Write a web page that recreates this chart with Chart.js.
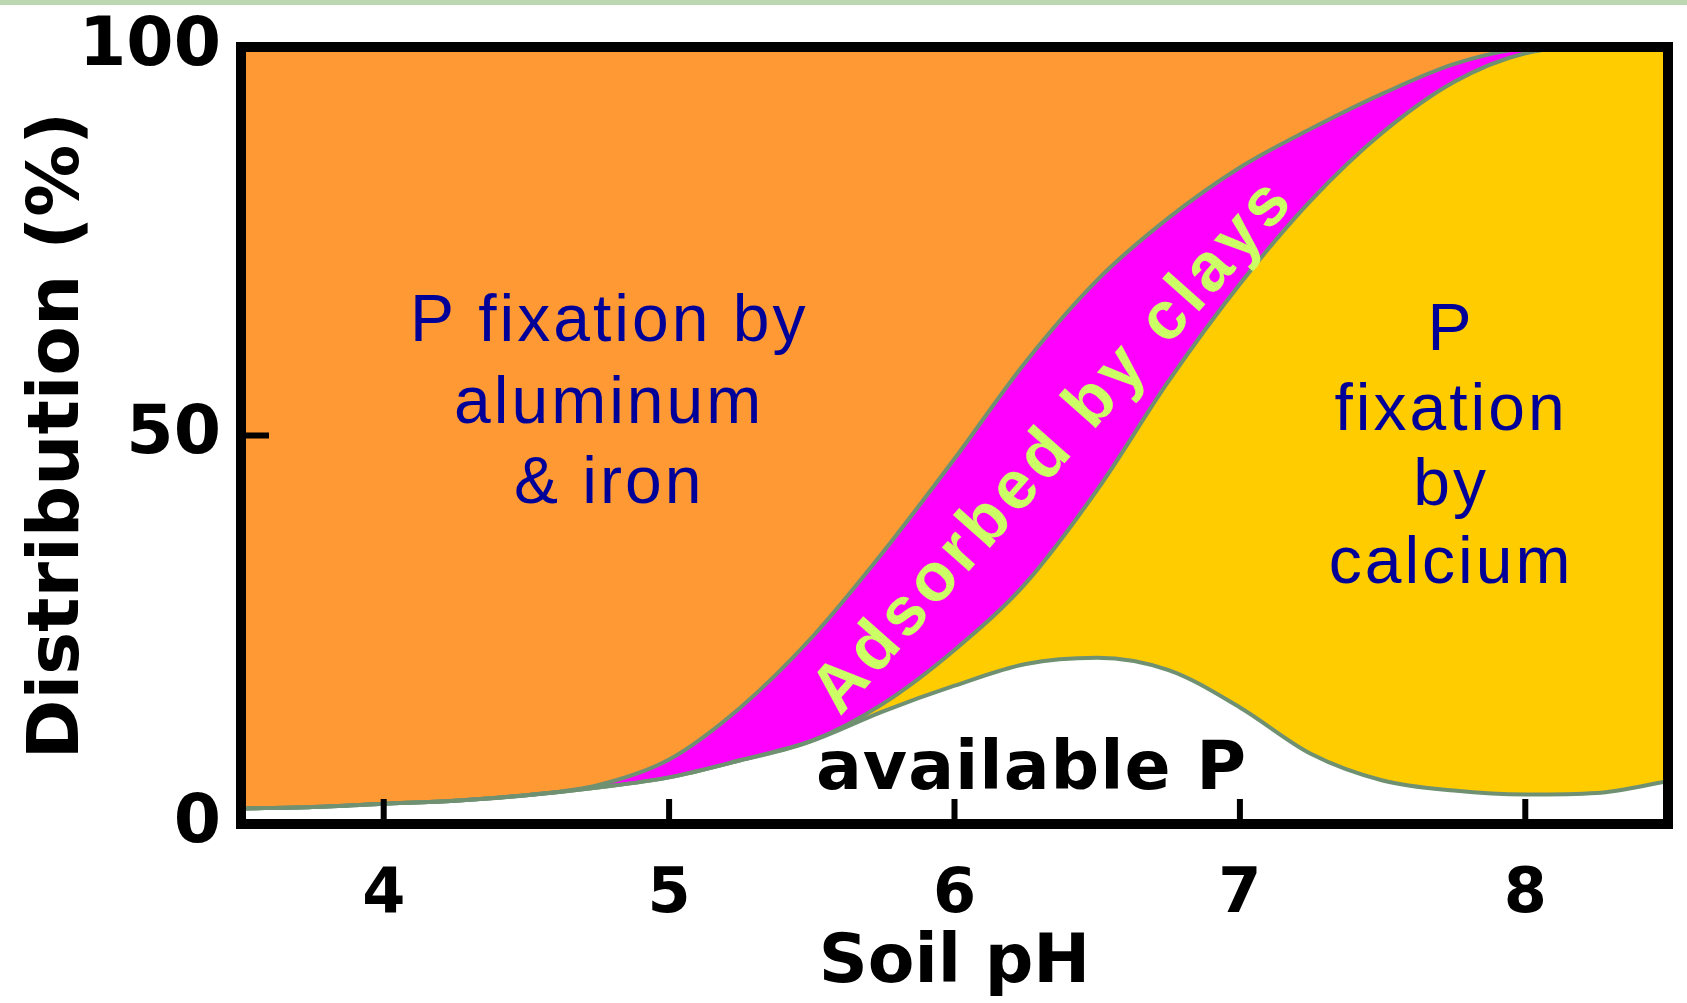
<!DOCTYPE html>
<html>
<head>
<meta charset="utf-8">
<title>Soil pH and P fixation</title>
<script src="https://cdn.jsdelivr.net/npm/chart.js@4.4.1/dist/chart.umd.min.js"></script>
<style>
  html, body { margin: 0; padding: 0; background: #fff; }
  #wrap { position: relative; width: 1687px; height: 1003px; }
  #strip { position: absolute; left: 0; top: 0; width: 1687px; height: 5px; background: #bcd8b2; }
  canvas { display: block; }
</style>
</head>
<body>
<div id="wrap">
  <canvas id="chart" width="1687" height="1003"></canvas>
  <div id="strip"></div>
</div>
<script>
// pH sample points
const phValues = [3.5, 3.75, 4.0, 4.25, 4.5, 4.75, 5.0, 5.25, 5.5, 5.75, 6.0, 6.25, 6.5, 6.75, 7.0, 7.25, 7.5, 7.75, 8.0, 8.25, 8.5];
// upper edge of each band, in % counted from the bottom
const availableTop = [2.0, 2.2, 2.6, 3.0, 3.7, 4.7, 6.0, 8.2, 10.7, 14.5, 17.8, 20.6, 21.4, 19.8, 15.0, 9.0, 5.6, 4.3, 3.8, 4.0, 5.5];
const calciumTop   = [2.0, 2.2, 2.6, 3.0, 3.7, 4.7, 6.0, 8.2, 10.7, 15.5, 22.4, 31.0, 43.0, 57.0, 69.5, 80.3, 89.0, 95.5, 99.2, 100, 100];
const claysTop     = [2.0, 2.2, 2.6, 3.0, 3.7, 5.0, 8.3, 15.0, 24.0, 35.0, 47.0, 59.5, 70.0, 78.0, 84.5, 89.5, 94.0, 97.8, 99.8, 100, 100];
// axis ticks
const xTicks = [4, 5, 6, 7, 8];
const yTicks = [0, 50, 100];

const pts = arr => phValues.map((x, i) => ({ x, y: arr[i] }));
const edge = '#6f9172';

// text inside the areas, placed in data units
const areaLabels = [
  { lines: ['P fixation by', 'aluminum', '& iron'], ph: 4.79, at: [62.1, 51.6, 41.3] },
  { lines: ['P', 'fixation', 'by', 'calcium'], ph: 7.74, at: [61.0, 50.7, 41.1, 31.0] }
];

const decor = {
  id: 'decor',
  afterDatasetsDraw(chart) {
    const { ctx, scales: { x, y } } = chart;
    ctx.save();
    ctx.textAlign = 'center';
    ctx.textBaseline = 'alphabetic';
    ctx.fillStyle = '#000099';
    ctx.font = '66px "Liberation Sans", Arial, sans-serif';
    ctx.letterSpacing = '3px';
    areaLabels.forEach(l => {
      l.lines.forEach((t, i) => ctx.fillText(t, x.getPixelForValue(l.ph), y.getPixelForValue(l.at[i])));
    });

    // available P
    ctx.letterSpacing = '1px';
    ctx.fillStyle = '#000';
    ctx.font = 'bold 68px "DejaVu Sans", sans-serif';
    ctx.fillText('available P', x.getPixelForValue(6.27), y.getPixelForValue(4.5));

    // clays, along the band
    ctx.save();
    ctx.translate(x.getPixelForValue(6.35), y.getPixelForValue(48.6));
    ctx.rotate(-48.5 * Math.PI / 180);
    ctx.textBaseline = 'middle';
    ctx.fillStyle = '#ccff66';
    ctx.font = 'bold 68px "Liberation Sans", Arial, sans-serif';
    ctx.letterSpacing = '5px';
    ctx.fillText('Adsorbed by clays', 0, 0);
    ctx.restore();
    ctx.restore();
  },
  afterDraw(chart) {
    const { ctx, chartArea: a, scales: { x, y } } = chart;
    ctx.save();
    ctx.strokeStyle = '#000';
    ctx.lineWidth = 6;
    ctx.beginPath();
    xTicks.forEach(v => {
      const px = x.getPixelForValue(v);
      ctx.moveTo(px, a.bottom);
      ctx.lineTo(px, a.bottom - 25);
    });
    const py = y.getPixelForValue(50);
    ctx.moveTo(a.left, py);
    ctx.lineTo(a.left + 28, py);
    ctx.stroke();
    // frame
    ctx.lineWidth = 10;
    ctx.strokeRect(a.left, a.top, a.right - a.left, a.bottom - a.top);
    ctx.restore();
  }
};

new Chart(document.getElementById('chart'), {
  type: 'line',
  data: {
    datasets: [
      { label: 'P fixation by aluminum & iron', data: pts(claysTop), fill: 'end',
        backgroundColor: '#ff9933', borderColor: edge, borderWidth: 4 },
      { label: 'Adsorbed by clays', data: pts(claysTop), fill: 2,
        backgroundColor: '#ff00ff', borderColor: 'rgba(0,0,0,0)', borderWidth: 1 },
      { label: 'P fixation by calcium', data: pts(calciumTop), fill: 3,
        backgroundColor: '#ffcc00', borderColor: edge, borderWidth: 4 },
      { label: 'available P', data: pts(availableTop), fill: 'origin',
        backgroundColor: '#ffffff', borderColor: edge, borderWidth: 4 }
    ]
  },
  options: {
    responsive: false,
    animation: false,
    devicePixelRatio: 1,
    layout: { padding: { top: 47, right: 19, left: 0, bottom: 0 } },
    elements: {
      point: { radius: 0, hoverRadius: 0 },
      line: { cubicInterpolationMode: 'monotone' }
    },
    plugins: {
      legend: { display: false },
      tooltip: { enabled: false },
      filler: { drawTime: 'beforeDatasetsDraw' }
    },
    scales: {
      x: {
        type: 'linear',
        min: 3.5,
        max: 8.5,
        afterBuildTicks: s => { s.ticks = xTicks.map(v => ({ value: v })); },
        afterFit: s => { s.height = 179; },
        grid: { display: false },
        border: { display: false },
        ticks: {
          color: '#000',
          padding: 33,
          font: { family: '"DejaVu Sans", sans-serif', size: 62, weight: 'bold', lineHeight: 1 }
        },
        title: {
          display: true,
          text: 'Soil pH',
          color: '#000',
          padding: { top: 0, bottom: 5 },
          font: { family: '"DejaVu Sans", sans-serif', size: 68, weight: 'bold', lineHeight: 1 }
        }
      },
      y: {
        min: 0,
        max: 100,
        afterBuildTicks: s => { s.ticks = yTicks.map(v => ({ value: v })); },
        afterFit: s => { s.width = 241; },
        grid: { display: false },
        border: { display: false },
        ticks: {
          color: '#000',
          padding: 12,
          font: { family: '"DejaVu Sans", sans-serif', size: 68, weight: 'bold', lineHeight: 1 }
        },
        title: {
          display: true,
          text: 'Distribution (%)',
          color: '#000',
          padding: { top: 23, bottom: 0 },
          font: { family: '"DejaVu Sans", sans-serif', size: 72, weight: 'bold', lineHeight: 1 }
        }
      }
    }
  },
  plugins: [decor]
});
</script>
</body>
</html>
